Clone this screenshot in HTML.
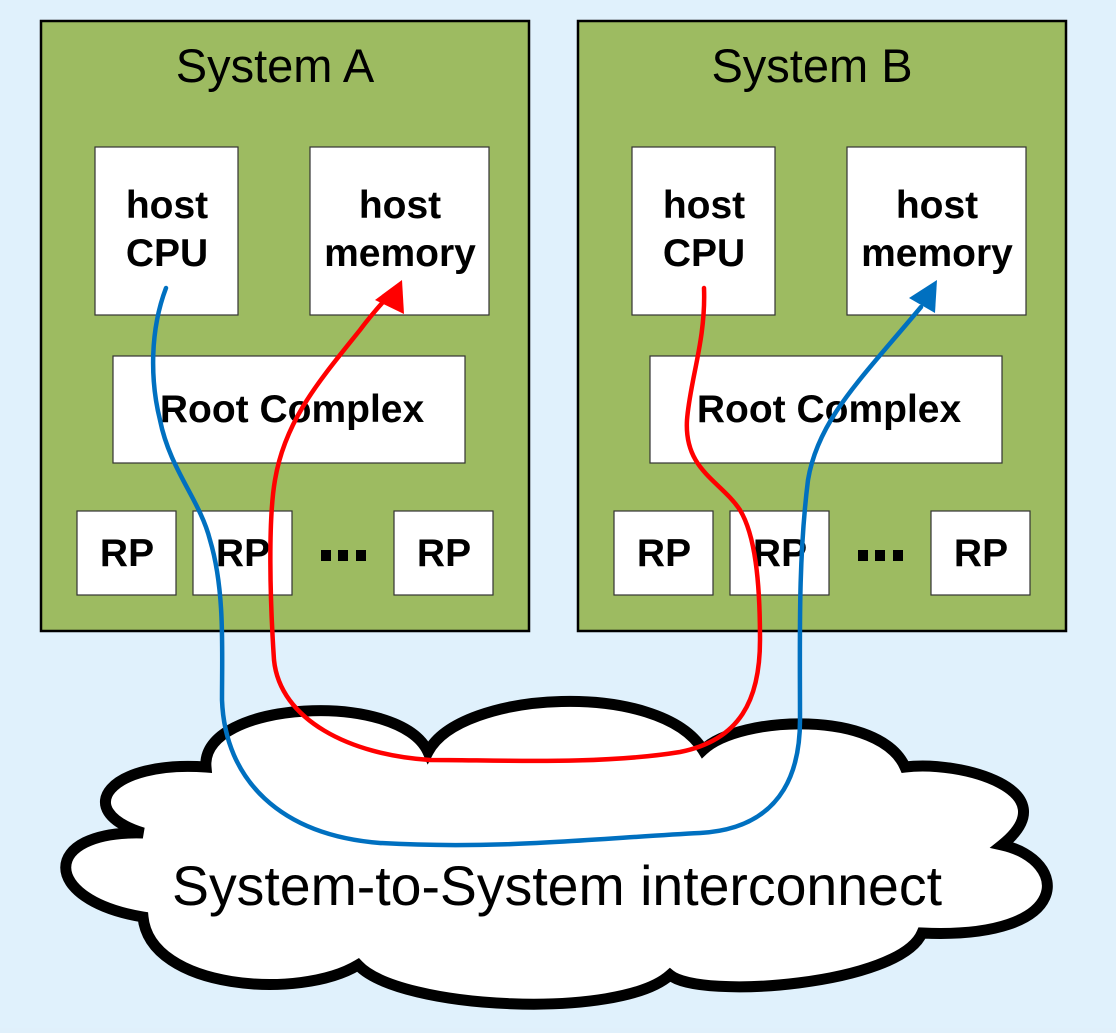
<!DOCTYPE html>
<html><head><style>html,body{margin:0;padding:0;background:#e0f0fb;}</style></head>
<body>
<svg width="1116" height="1028" viewBox="0 0 1116 1028" xmlns="http://www.w3.org/2000/svg" font-family="Liberation Sans, Arial, sans-serif">
<rect width="1116" height="1028" fill="#e0f1fc"/>
<g id="A">
<rect x="41" y="21" width="488" height="610" fill="#9dbb61" stroke="#000" stroke-width="2.5"/>
<text x="275" y="82" font-size="47" text-anchor="middle">System A</text>
<rect x="95" y="147" width="143" height="168" fill="#fff" stroke="#333" stroke-width="1.2"/>
<text x="167" y="218" font-size="39" font-weight="bold" text-anchor="middle">host</text>
<text x="167" y="266" font-size="39" font-weight="bold" text-anchor="middle">CPU</text>
<rect x="310" y="147" width="179" height="168" fill="#fff" stroke="#333" stroke-width="1.2"/>
<text x="400" y="218" font-size="39" font-weight="bold" text-anchor="middle">host</text>
<text x="400" y="266" font-size="39" font-weight="bold" text-anchor="middle">memory</text>
<rect x="113" y="356" width="352" height="107" fill="#fff" stroke="#333" stroke-width="1.2"/>
<text x="292" y="422" font-size="39" font-weight="bold" text-anchor="middle">Root Complex</text>
<rect x="77" y="511" width="99" height="84" fill="#fff" stroke="#333" stroke-width="1.2"/>
<text x="127" y="566" font-size="39" font-weight="bold" text-anchor="middle">RP</text>
<rect x="193" y="511" width="99" height="84" fill="#fff" stroke="#333" stroke-width="1.2"/>
<text x="243" y="566" font-size="39" font-weight="bold" text-anchor="middle">RP</text>
<rect x="394" y="511" width="99" height="84" fill="#fff" stroke="#333" stroke-width="1.2"/>
<text x="444" y="566" font-size="39" font-weight="bold" text-anchor="middle">RP</text>
<rect x="321" y="550" width="10" height="11" fill="#000"/>
<rect x="338" y="550" width="10" height="11" fill="#000"/>
<rect x="356" y="550" width="10" height="11" fill="#000"/>
</g>
<g transform="translate(537,0)">
<rect x="41" y="21" width="488" height="610" fill="#9dbb61" stroke="#000" stroke-width="2.5"/>
<text x="275" y="82" font-size="47" text-anchor="middle">System B</text>
<rect x="95" y="147" width="143" height="168" fill="#fff" stroke="#333" stroke-width="1.2"/>
<text x="167" y="218" font-size="39" font-weight="bold" text-anchor="middle">host</text>
<text x="167" y="266" font-size="39" font-weight="bold" text-anchor="middle">CPU</text>
<rect x="310" y="147" width="179" height="168" fill="#fff" stroke="#333" stroke-width="1.2"/>
<text x="400" y="218" font-size="39" font-weight="bold" text-anchor="middle">host</text>
<text x="400" y="266" font-size="39" font-weight="bold" text-anchor="middle">memory</text>
<rect x="113" y="356" width="352" height="107" fill="#fff" stroke="#333" stroke-width="1.2"/>
<text x="292" y="422" font-size="39" font-weight="bold" text-anchor="middle">Root Complex</text>
<rect x="77" y="511" width="99" height="84" fill="#fff" stroke="#333" stroke-width="1.2"/>
<text x="127" y="566" font-size="39" font-weight="bold" text-anchor="middle">RP</text>
<rect x="193" y="511" width="99" height="84" fill="#fff" stroke="#333" stroke-width="1.2"/>
<text x="243" y="566" font-size="39" font-weight="bold" text-anchor="middle">RP</text>
<rect x="394" y="511" width="99" height="84" fill="#fff" stroke="#333" stroke-width="1.2"/>
<text x="444" y="566" font-size="39" font-weight="bold" text-anchor="middle">RP</text>
<rect x="321" y="550" width="10" height="11" fill="#000"/>
<rect x="338" y="550" width="10" height="11" fill="#000"/>
<rect x="356" y="550" width="10" height="11" fill="#000"/>
</g>
<!-- cloud -->
<path d="M206,767 C200,700 400,690 428,752 C460,690 660,680 703,750 C740,715 880,710 905,767 C960,760 1070,790 1002,845 C1070,860 1075,940 922,933 C900,985 700,1000 670,975 C620,1020 400,1010 358,965 C300,1000 150,990 143,917 C40,900 40,830 143,833 C70,810 110,760 206,767 Z" fill="#fff" stroke="#000" stroke-width="11" stroke-linejoin="miter"/>
<text x="557" y="905" font-size="56" text-anchor="middle" textLength="770" lengthAdjust="spacingAndGlyphs">System-to-System interconnect</text>
<!-- blue -->
<path d="M166,288 C150,330 150,380 160,420 C170,470 200,500 210,540 C225,590 222,650 222,700 C225,780 280,835 380,843 C500,850 600,838 700,833 C790,828 800,760 800,720 C800,640 798,560 808,480 C818,420 860,380 921,307" fill="none" stroke="#0070c0" stroke-width="4.5" stroke-linecap="round"/>
<polygon points="937,280 909,298 935,313" fill="#0070c0"/>
<!-- red -->
<path d="M704,288 C706,340 690,380 687,420 C684,470 720,480 740,510 C755,535 760,580 760,640 C760,700 740,740 680,752 C600,765 500,760 430,760 C350,755 280,720 274,660 C270,600 268,520 275,480 C285,420 320,380 360,330 C375,310 385,300 392,292" fill="none" stroke="#ff0000" stroke-width="4.5" stroke-linecap="round"/>
<polygon points="402,280 375,300 404,314" fill="#ff0000"/>
</svg>
</body></html>
